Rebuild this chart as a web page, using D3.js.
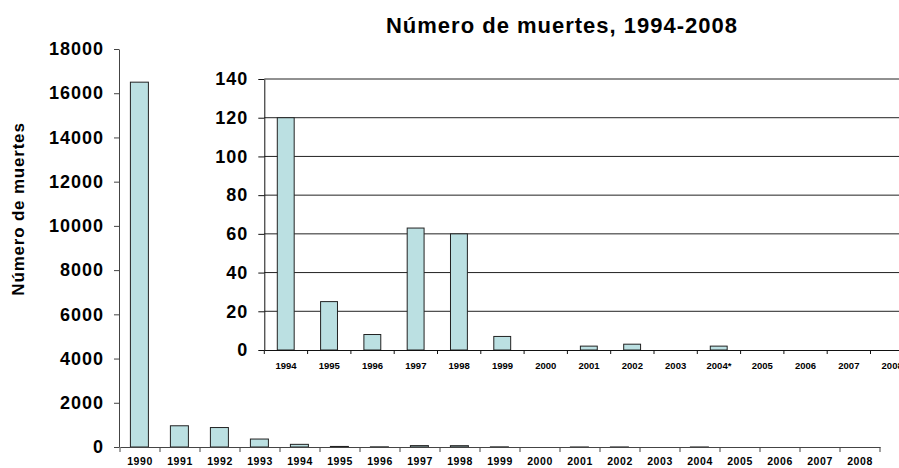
<!DOCTYPE html>
<html>
<head>
<meta charset="utf-8">
<script src="https://cdn.jsdelivr.net/npm/d3@7"></script>
<style>
  body { margin: 0; background: #fff; }
  svg { display: block; font-family: "Liberation Sans", Arial, sans-serif; font-weight: bold; }
</style>
</head>
<body>
<svg id="chart" width="899" height="468"></svg>
<script>
// outer chart: 1990-2008
const years = ["1990","1991","1992","1993","1994","1995","1996","1997","1998","1999",
  "2000","2001","2002","2003","2004","2005","2006","2007","2008"];
const deaths = [16500, 960, 880, 360, 120, 25, 8, 63, 60, 7, 0, 2, 3, 0, 2, 0, 0, 0, 0];

// inset chart: 1994-2008
const insetYears = ["1994","1995","1996","1997","1998","1999","2000","2001","2002","2003",
  "2004*","2005","2006","2007","2008"];
const insetDeaths = [120, 25, 8, 63, 60, 7, 0, 2, 3, 0, 2, 0, 0, 0, 0];

const outerTicks = [0, 2000, 4000, 6000, 8000, 10000, 12000, 14000, 16000, 18000];
const insetTicks = [0, 20, 40, 60, 80, 100, 120, 140];

const barFill = "#bbe0e2";
const barStroke = "#222";

const chart = d3.select("#chart");

// ---- outer chart
const xScale = d3.scaleBand().domain(years).range([120, 880]);
const yScale = d3.scaleLinear().domain([0, 18000]).range([447, 49]);

const xAxis = d3.axisBottom(xScale).tickSize(0).tickPadding(11);
const yAxis = d3
  .axisLeft(yScale)
  .tickValues(outerTicks)
  .tickFormat(d3.format("d"))
  .tickSize(5)
  .tickPadding(10)
  .tickSizeOuter(0);

chart
  .selectAll(".outer-bar")
  .data(years)
  .enter()
  .append("rect")
  .attr("class", "outer-bar")
  .attr("x", (d) => xScale(d) + xScale.step() * 0.26)
  .attr("y", (d, i) => yScale(deaths[i]))
  .attr("width", xScale.step() * 0.45)
  .attr("height", (d, i) => yScale(0) - yScale(deaths[i]))
  .attr("fill", barFill)
  .attr("stroke", barStroke)
  .attr("stroke-width", 1);

const gx = chart.append("g").attr("transform", "translate(0, 447)").call(xAxis);
gx.select(".domain").attr("stroke", "#444");
gx.selectAll("text").style("font-size", "10.5px").style("letter-spacing", "0.6px").attr("fill", "#000");

// category boundary ticks
chart
  .selectAll(".outer-tick")
  .data(d3.range(years.length + 1))
  .enter()
  .append("line")
  .attr("class", "outer-tick")
  .attr("x1", (i) => 120 + i * xScale.step())
  .attr("x2", (i) => 120 + i * xScale.step())
  .attr("y1", 447)
  .attr("y2", 452)
  .attr("stroke", "#444");

const gy = chart.append("g").attr("transform", "translate(119, 0)").call(yAxis);
gy.select(".domain").attr("stroke", "#444");
gy.selectAll(".tick line").attr("stroke", "#444");
gy.selectAll("text").style("font-size", "18px").style("letter-spacing", "1px").attr("fill", "#000");

chart
  .append("text")
  .attr("x", -209)
  .attr("y", 24)
  .attr("text-anchor", "middle")
  .attr("transform", "rotate(-90)")
  .style("font-size", "17px")
  .style("letter-spacing", "0.8px")
  .text("Número de muertes");

// ---- inset chart
const insetX = d3.scaleBand().domain(insetYears).range([264.3, 264.3 + 15 * 43.3]);
const insetY = d3.scaleLinear().domain([0, 140]).range([350, 79]);

chart
  .selectAll(".grid")
  .data(insetTicks.slice(1))
  .enter()
  .append("line")
  .attr("class", "grid")
  .attr("x1", 264.3)
  .attr("x2", 914)
  .attr("y1", (d) => insetY(d))
  .attr("y2", (d) => insetY(d))
  .attr("stroke", "#222");

chart
  .selectAll(".inset-bar")
  .data(insetYears)
  .enter()
  .append("rect")
  .attr("class", "inset-bar")
  .attr("x", (d) => insetX(d) + insetX.step() * 0.3)
  .attr("y", (d, i) => insetY(insetDeaths[i]))
  .attr("width", insetX.step() * 0.39)
  .attr("height", (d, i) => insetY(0) - insetY(insetDeaths[i]))
  .attr("fill", barFill)
  .attr("stroke", barStroke)
  .attr("stroke-width", 1);

const ix = chart
  .append("g")
  .attr("transform", "translate(0, 350)")
  .call(d3.axisBottom(insetX).tickSize(0).tickPadding(12));
ix.select(".domain").attr("stroke", "#111");
ix.selectAll("text").style("font-size", "9.5px").attr("fill", "#000");

chart
  .selectAll(".inset-tick")
  .data(d3.range(insetYears.length + 1))
  .enter()
  .append("line")
  .attr("class", "inset-tick")
  .attr("x1", (i) => 264.3 + i * insetX.step())
  .attr("x2", (i) => 264.3 + i * insetX.step())
  .attr("y1", 350)
  .attr("y2", 354)
  .attr("stroke", "#111");

const iy = chart
  .append("g")
  .attr("transform", "translate(264.3, 0)")
  .call(d3.axisLeft(insetY).tickValues(insetTicks).tickSize(6).tickPadding(10).tickSizeOuter(0));
iy.select(".domain").attr("stroke", "#111");
iy.selectAll(".tick line").attr("stroke", "#111");
iy.selectAll("text").style("font-size", "18px").style("letter-spacing", "1px").attr("fill", "#000");

chart
  .append("text")
  .attr("x", 562)
  .attr("y", 33)
  .attr("text-anchor", "middle")
  .style("font-size", "22px")
  .style("letter-spacing", "1px")
  .text("Número de muertes, 1994-2008");
</script>
</body>
</html>
